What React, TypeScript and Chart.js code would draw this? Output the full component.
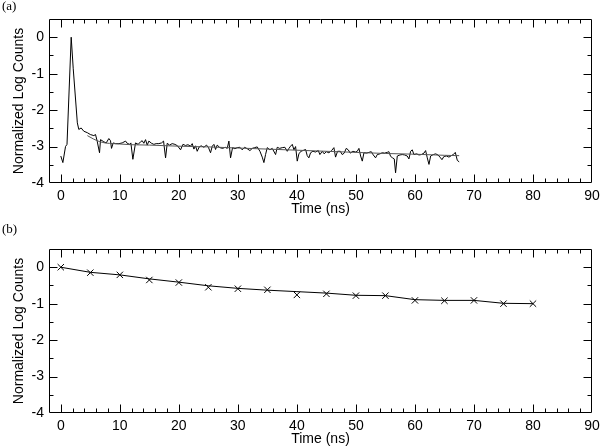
import React, { useEffect, useRef } from 'react';
import { Chart, registerables } from 'chart.js';

Chart.register(...registerables);

// ---------- Panel (a): decay curve (noisy) + fitted curve ----------
const decayTime = [
  0, 0.35, 0.8, 1.05, 1.76, 2.1, 2.8, 3.05, 3.45, 3.9,
  4.5, 5.0, 5.6, 5.88, 6.16, 6.56, 6.73, 7.29, 7.69, 8.14,
  8.42, 8.59, 8.88, 9.27, 9.84, 10.4, 10.97, 11.25, 11.65, 11.87,
  12.21, 12.66, 13.11, 13.51, 13.79, 14.07, 14.36, 14.64, 14.92, 15.37,
  15.77, 16.16, 16.61, 17.07, 17.41, 17.75, 18.03, 18.42, 18.87, 19.33,
  19.78, 20.29, 20.69, 21.13, 21.55, 21.98, 22.27, 22.55, 22.83, 23.11,
  23.45, 23.79, 24.24, 24.69, 25.03, 25.37, 25.66, 25.94, 26.22, 26.5,
  26.95, 27.41, 27.86, 28.2, 28.48, 28.76, 29.1, 29.5, 29.89, 30.34,
  30.74, 31.14, 31.59, 32.04, 32.44, 32.83, 33.28, 33.74, 34.13, 34.41,
  34.69, 34.98, 35.43, 35.82, 36.39, 36.67, 37.07, 37.52, 37.97, 38.37,
  38.65, 38.93, 39.22, 39.5, 39.78, 40.06, 40.34, 40.68, 41.02, 41.47,
  41.75, 42.03, 42.32, 42.71, 43.17, 43.62, 43.9, 44.3, 44.63, 44.97,
  45.42, 45.88, 46.27, 46.55, 46.89, 47.35, 47.68, 48.02, 48.36, 48.7,
  49.04, 49.49, 49.94, 50.23, 50.51, 50.8, 51.08, 51.36, 51.81, 52.21,
  52.6, 52.94, 53.33, 53.62, 54.07, 54.46, 54.86, 55.31, 55.59, 55.88,
  56.21, 56.5, 56.72, 57.01, 57.46, 57.85, 58.25, 58.7, 58.98, 59.27,
  59.55, 59.83, 60.28, 60.68, 61.08, 61.53, 61.81, 62.09, 62.38, 62.66,
  63.11, 63.51, 63.9, 64.24, 64.58, 64.92, 65.37, 65.76, 66.16, 66.5,
  66.84, 67.18, 67.5,
];
const decayCounts = [
  -3.26, -3.44, -3.0, -2.94, 0, -0.85, -2.35, -2.53, -2.49, -2.58,
  -2.62, -2.67, -2.70, -2.67, -2.85, -3.17, -2.81, -2.87, -2.90, -2.78,
  -2.84, -3.05, -2.90, -2.92, -2.92, -2.90, -2.85, -2.91, -2.94, -2.90,
  -3.35, -2.90, -2.94, -2.87, -2.84, -2.91, -2.81, -2.96, -2.85, -2.91,
  -2.94, -2.92, -2.92, -2.90, -2.85, -3.31, -2.91, -2.96, -2.92, -2.94,
  -2.98, -3.09, -2.94, -2.97, -2.95, -2.99, -2.92, -3.07, -2.98, -3.13,
  -3.01, -2.98, -3.02, -2.96, -3.03, -3.17, -2.99, -2.94, -3.08, -2.96,
  -3.03, -3.05, -3.02, -3.05, -2.85, -3.31, -3.03, -3.06, -3.03, -3.02,
  -3.09, -3.02, -3.06, -3.11, -3.05, -3.03, -3.01, -3.13, -3.29, -3.44,
  -3.22, -3.03, -3.09, -3.05, -3.22, -3.02, -3.05, -3.03, -3.02, -3.13,
  -3.05, -2.99, -2.94, -3.09, -3.00, -3.40, -3.20, -3.13, -3.11, -3.08,
  -3.25, -3.31, -3.17, -3.13, -3.15, -3.11, -3.22, -3.13, -3.20, -3.14,
  -3.17, -3.11, -3.03, -3.29, -3.13, -3.13, -3.22, -3.18, -3.05, -3.09,
  -3.18, -3.13, -3.15, -3.13, -3.05, -3.26, -3.40, -3.17, -3.18, -3.16,
  -3.14, -3.23, -3.31, -3.22, -3.20, -3.17, -3.18, -3.16, -3.14, -3.27,
  -3.31, -3.34, -3.72, -3.26, -3.23, -3.22, -3.23, -3.26, -3.34, -3.13,
  -3.09, -3.22, -3.20, -3.23, -3.22, -3.18, -3.11, -3.31, -3.49, -3.26,
  -3.22, -3.20, -3.23, -3.29, -3.36, -3.27, -3.26, -3.29, -3.25, -3.22,
  -3.16, -3.38, -3.42,
];
const fitTime = [4.5, 5.5, 6.5, 7.5, 9, 10, 12, 15, 20, 25, 30, 35, 40, 45, 50, 55, 60, 65, 67.5];
const fitCounts = [-2.70, -2.79, -2.86, -2.90, -2.92, -2.93, -2.95, -2.96, -2.99, -3.01, -3.04, -3.07, -3.10, -3.13, -3.16, -3.19, -3.21, -3.24, -3.25];

// ---------- Panel (b): sampled points + trend line ----------
const sampleTime = [0, 5, 10, 15, 20, 25, 30, 35, 40, 45, 50, 55, 60, 65, 70, 75, 80];
const markerCounts = [0, -0.15, -0.21, -0.35, -0.42, -0.55, -0.59, -0.62, -0.76, -0.73, -0.78, -0.78, -0.91, -0.92, -0.91, -1.0, -1.0];
const trendCounts = [0, -0.14, -0.21, -0.32, -0.41, -0.51, -0.58, -0.63, -0.67, -0.71, -0.77, -0.78, -0.89, -0.91, -0.91, -0.99, -1.0];

// axis settings
const xMin = -2;
const xMax = 90;
const xStep = 10;
const yMin = -4;
const yMax = 0.5;
const yStep = 1;
const xTitle = 'Time (ns)';
const yTitle = 'Normalized Log Counts';

const SANS = "'Liberation Sans', Arial, Helvetica, sans-serif";
const SERIF = "'Liberation Serif', 'Times New Roman', serif";

const toPoints = (xs: number[], ys: number[]) => xs.map((x, i) => ({ x, y: ys[i] }));

const frameTicksPlugin = {
  id: 'frameTicks',
  afterDraw(chart: any) {
    const { ctx, chartArea, scales } = chart;
    const xs = scales.x;
    const ys = scales.y;
    const xl = Math.round(chartArea.left) + 0.5;
    const xr = Math.round(chartArea.right) - 0.5;
    const yt = Math.round(chartArea.top) + 0.5;
    const yb = Math.round(chartArea.bottom) - 0.5;
    const MAJ = 8;
    const MIN = 4;
    ctx.save();
    ctx.strokeStyle = '#000';
    ctx.lineWidth = 1;
    ctx.beginPath();
    ctx.rect(xl, yt, xr - xl, yb - yt);
    const seg = (a: number, b: number, c: number, d: number) => {
      ctx.moveTo(a, b);
      ctx.lineTo(c, d);
    };
    const xMaj: number[] = xs.ticks.map((t: any) => t.value);
    const xs5 = (xMaj[1] - xMaj[0]) / 5;
    const xAll: [number, number][] = [];
    xMaj.forEach((v) => {
      xAll.push([v, MAJ]);
      for (let k = 1; k < 5; k++) xAll.push([v + k * xs5, MIN]);
    });
    xAll.forEach(([v, len]) => {
      if (v <= xs.min || v >= xs.max) return;
      const p = Math.round(xs.getPixelForValue(v)) + 0.5;
      seg(p, yb, p, yb - len);
      seg(p, yt, p, yt + len);
    });
    const yMaj: number[] = ys.ticks.map((t: any) => t.value);
    const yh = (yMaj[1] - yMaj[0]) / 2;
    const yAll: [number, number][] = [];
    yMaj.forEach((v) => {
      yAll.push([v, MAJ]);
      yAll.push([v + yh, MIN]);
    });
    yAll.forEach(([v, len]) => {
      if (v <= ys.min || v >= ys.max) return;
      const p = Math.round(ys.getPixelForValue(v)) + 0.5;
      seg(xl, p, xl + len, p);
      seg(xr, p, xr - len, p);
    });
    ctx.stroke();
    ctx.restore();
  },
};

function makeOptions(): any {
  const tickFont = { family: SANS, size: 14 };
  return {
    responsive: false,
    animation: false,
    devicePixelRatio: 1,
    layout: { padding: { left: 0, right: 8, top: 19, bottom: 0 } },
    plugins: { legend: { display: false }, tooltip: { enabled: false } },
    scales: {
      x: {
        type: 'linear',
        min: xMin,
        max: xMax,
        grid: { display: false, drawTicks: false },
        border: { display: false },
        ticks: {
          stepSize: xStep,
          includeBounds: false,
          autoSkip: false,
          maxRotation: 0,
          padding: 5,
          color: '#000',
          font: tickFont,
        },
        title: { display: true, text: xTitle, color: '#000', font: tickFont, padding: { top: 0, bottom: 0 } },
        afterFit: (s: any) => {
          s.height = 35;
          s.paddingLeft = 0;
          s.paddingRight = 0;
        },
      },
      y: {
        type: 'linear',
        min: yMin,
        max: yMax,
        grid: { display: false, drawTicks: false },
        border: { display: false },
        ticks: {
          stepSize: yStep,
          includeBounds: false,
          padding: 5,
          color: '#000',
          font: tickFont,
        },
        title: { display: true, text: yTitle, color: '#000', font: tickFont, padding: { top: 11, bottom: 0 } },
        afterFit: (s: any) => {
          s.width = 49;
          s.paddingTop = 0;
          s.paddingBottom = 0;
        },
      },
    },
  };
}

function Panel({ top, which }: { top: number; which: 'a' | 'b' }) {
  const ref = useRef<HTMLCanvasElement>(null);
  useEffect(() => {
    const datasets: any[] =
      which === 'a'
        ? [
            {
              data: toPoints(fitTime, fitCounts),
              borderColor: '#555',
              borderWidth: 1,
              pointRadius: 0,
              cubicInterpolationMode: 'monotone',
              fill: false,
            },
            {
              data: toPoints(decayTime, decayCounts),
              borderColor: '#000',
              borderWidth: 1,
              pointRadius: 0,
              tension: 0,
              fill: false,
            },
          ]
        : [
            {
              data: toPoints(sampleTime, markerCounts),
              showLine: false,
              pointStyle: 'crossRot',
              pointRadius: 4.5,
              pointBorderWidth: 1,
              borderColor: '#000',
              pointBorderColor: '#000',
              backgroundColor: 'rgba(0,0,0,0)',
            },
            {
              data: toPoints(sampleTime, trendCounts),
              borderColor: '#000',
              borderWidth: 1,
              pointRadius: 0,
              tension: 0,
              fill: false,
            },
          ];
    const chart = new Chart(ref.current as HTMLCanvasElement, {
      type: 'line',
      data: { datasets },
      options: makeOptions(),
      plugins: [frameTicksPlugin],
    } as any);
    return () => chart.destroy();
  }, [which]);
  return (
    <canvas
      ref={ref}
      width={600}
      height={218}
      style={{ position: 'absolute', left: 0, top, width: 600, height: 218 }}
    />
  );
}

export default function App() {
  const labelStyle: React.CSSProperties = {
    position: 'absolute',
    left: 2,
    fontFamily: SERIF,
    fontSize: 13,
    lineHeight: '13px',
    color: '#000',
  };
  return (
    <div style={{ position: 'fixed', left: 0, top: 0, width: 600, height: 448, background: '#fff' }}>
      <Panel top={0} which="a" />
      <Panel top={230} which="b" />
      <div style={{ ...labelStyle, top: -1 }}>(a)</div>
      <div style={{ ...labelStyle, top: 222 }}>(b)</div>
    </div>
  );
}
